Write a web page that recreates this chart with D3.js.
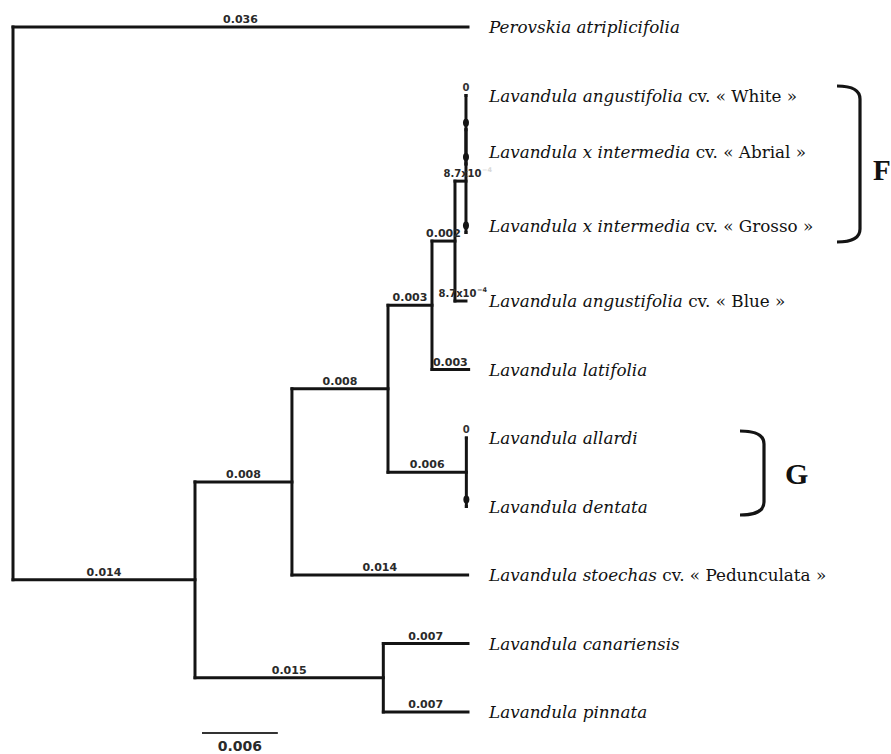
<!DOCTYPE html>
<html>
<head>
<meta charset="utf-8">
<script src="https://cdn.jsdelivr.net/npm/d3@7/dist/d3.min.js"></script>
<style>
  html, body { margin: 0; padding: 0; background: #fff; }
  svg { display: block; }
</style>
</head>
<body>
<svg id="chart" width="891" height="754"></svg>
<script>
// ---- DATA ----
// tree nodes: id, parent, branch length (substitutions/site), branch label shown
const nodeIds     = ["root","Pero","A","B","C","D","E","F","F1","White","Abrial","Grosso","Blue","Lati","G","Allardi","Dentata","Stoechas","H","Canar","Pinn"];
const nodeParents = ["",    "root","root","A","B","C","D","E","F", "F1",   "F1",    "F",     "E",   "D",   "C","G",      "G",      "B",       "A","H",    "H"];
const branchLengths = [0, 0.036, 0.0144, 0.00767, 0.0076, 0.00348, 0.00182, 0.00087, 0, 0, 0, 0, 0.00087, 0.0029, 0.0062, 0, 0, 0.0139, 0.0149, 0.0067, 0.0067];
const branchLabels  = ["", "0.036", "0.014", "0.008", "0.008", "0.003", "0.002", "8.7x10", "", "0", "", "", "8.7x10", "0.003", "0.006", "0", "", "0.014", "0.015", "0.007", "0.007"];
const superscripts  = ["", "", "", "", "", "", "", "−4", "", "", "", "", "−4", "", "", "", "", "", "", "", ""];

// leaf labels (in tree order)
const leafOrder   = ["Pero","White","Abrial","Grosso","Blue","Lati","Allardi","Dentata","Stoechas","Canar","Pinn"];
const leafItalic  = ["Perovskia atriplicifolia","Lavandula angustifolia","Lavandula x intermedia","Lavandula x intermedia","Lavandula angustifolia","Lavandula latifolia","Lavandula allardi","Lavandula dentata","Lavandula stoechas","Lavandula canariensis","Lavandula pinnata"];
const leafCultivar= ["","cv. « White »","cv. « Abrial »","cv. « Grosso »","cv. « Blue »","","","","cv. « Pedunculata »","",""];

// clade brackets
const cladeNames  = ["F","G"];

const scaleBarValue = 0.006;
const scaleBarLabel = "0.006";

// ---- LAYOUT ----
const svg = d3.select("#chart");
const labelNudge = { Abrial: -12, Grosso: -7 };

const rows = nodeIds.map((id, i) => ({ id, parent: nodeParents[i], len: branchLengths[i], label: branchLabels[i], sup: superscripts[i] }));
const root = d3.stratify().id(d => d.id).parentId(d => d.parent || null)(rows);

root.each(n => { n.dist = n.parent ? n.parent.dist + n.data.len : 0; });

const x = d3.scaleLinear().domain([0, 0.036]).range([13, 468]);
const y = d3.scalePoint().domain(leafOrder).range([27, 712]);

root.eachAfter(n => {
  if (!n.children) n.yPos = y(n.id);
  else {
    const ys = n.children.map(c => c.yPos);
    n.yPos = (d3.min(ys) + d3.max(ys)) / 2;
  }
  n.xPos = x(n.dist);
});

const g = svg.append("g");
const stroke = "#141414";

root.descendants().filter(n => n.parent).forEach(n => {
  g.append("line")
    .attr("x1", n.parent.xPos).attr("x2", n.xPos)
    .attr("y1", n.yPos).attr("y2", n.yPos)
    .attr("stroke", stroke).attr("stroke-width", 3).attr("stroke-linecap", "square");
});
root.descendants().filter(n => n.children).forEach(n => {
  const ys = n.children.map(c => c.yPos);
  g.append("line")
    .attr("x1", n.xPos).attr("x2", n.xPos)
    .attr("y1", d3.min(ys)).attr("y2", d3.max(ys))
    .attr("stroke", stroke).attr("stroke-width", 3).attr("stroke-linecap", "square");
});
root.descendants().filter(n => n.parent && n.data.len === 0).forEach(n => {
  const sib = n.parent.children;
  if (sib[0] === n && !n.children) return;
  g.append("ellipse")
    .attr("cx", n.xPos).attr("cy", n.yPos - 7)
    .attr("rx", 3).attr("ry", 4).attr("fill", stroke);
});

const lblFont = "'DejaVu Sans', sans-serif";
root.descendants().filter(n => n.parent && n.data.label).forEach(n => {
  if (n.data.label === "0") {
    g.append("text")
      .attr("x", n.xPos).attr("y", n.yPos - 5)
      .attr("text-anchor", "middle")
      .attr("font-family", lblFont).attr("font-size", 10).attr("font-weight", "bold")
      .attr("fill", "#333").text("0");
    return;
  }
  const small = !!n.data.sup;
  const cx = (n.parent.xPos + n.xPos) / 2 + (n.id === "F" ? 2 : (small ? -3 : 0));
  const t = g.append("text")
    .attr("x", cx).attr("y", n.yPos - 4)
    .attr("text-anchor", "middle")
    .attr("font-family", lblFont).attr("font-size", small ? 10 : 11).attr("font-weight", "bold")
    .attr("fill", "#2a2a2a").text(n.data.label);
  if (small) {
    const w = t.node().getComputedTextLength();
    g.append("text")
      .attr("x", cx + w / 2 + 0.5).attr("y", n.yPos - 9)
      .attr("font-family", lblFont).attr("font-size", 6.5).attr("font-weight", "bold")
      .attr("fill", n.id === "F" ? "#d8d8d8" : "#2a2a2a").text(n.data.sup);
  }
});

const leafFont = "'DejaVu Serif', serif";
leafOrder.forEach((id, i) => {
  const n = root.find(d => d.id === id);
  const t = g.append("text")
    .attr("x", 489).attr("y", n.yPos + (labelNudge[id] || 0))
    .attr("dy", "0.36em")
    .attr("font-family", leafFont).attr("font-size", 16.8).attr("fill", "#111");
  t.append("tspan").attr("font-style", "italic").text(leafItalic[i]);
  if (leafCultivar[i]) t.append("tspan").text(" " + leafCultivar[i]);
});

const brackets = [
  { x0: 837, x1: 860, yTop: 86, yBot: 242, lx: 873, ly: 170, fs: 29 },
  { x0: 740, x1: 764, yTop: 431, yBot: 515, lx: 785, ly: 473, fs: 30 }
];
const titleFont = "'Liberation Serif', 'Times New Roman', serif";
cladeNames.forEach((name, i) => {
  const b = brackets[i];
  const r = 13;
  const p = `M${b.x0},${b.yTop} Q${b.x1},${b.yTop} ${b.x1},${b.yTop + r} L${b.x1},${b.yBot - r} Q${b.x1},${b.yBot} ${b.x0},${b.yBot}`;
  g.append("path").attr("d", p).attr("fill", "none").attr("stroke", stroke).attr("stroke-width", 3.2);
  g.append("text").attr("x", b.lx).attr("y", b.ly).attr("dy", "0.35em")
    .attr("font-family", titleFont).attr("font-weight", "bold").attr("font-size", b.fs)
    .attr("fill", "#111").text(name);
});

const sbX0 = 202;
const sbLen = x(scaleBarValue) - x(0);
g.append("line").attr("x1", sbX0).attr("x2", sbX0 + sbLen).attr("y1", 733).attr("y2", 733)
  .attr("stroke", "#333").attr("stroke-width", 2);
g.append("text").attr("x", sbX0 + sbLen / 2).attr("y", 751).attr("text-anchor", "middle")
  .attr("font-family", lblFont).attr("font-size", 14).attr("font-weight", "bold")
  .attr("fill", "#2a2a2a").text(scaleBarLabel);
</script>
</body>
</html>
